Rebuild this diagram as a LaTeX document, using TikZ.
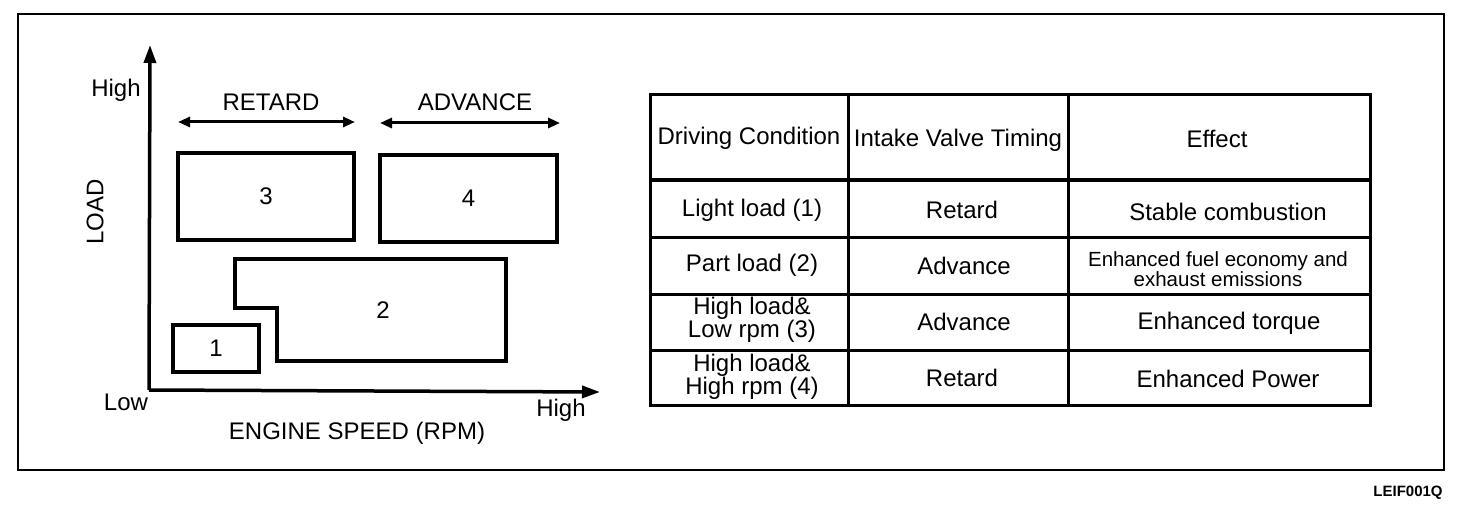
\documentclass[tikz,border=0pt]{standalone}
\usepackage{fontspec}
\setmainfont{Liberation Sans}
\usetikzlibrary{arrows.meta}
\begin{document}
\begin{tikzpicture}[x=1pt,y=-1pt,
  every node/.style={font=\fontsize{24}{20}\selectfont, inner sep=0pt},
  region/.style={draw, line width=3.5pt},
  axis/.style={line width=3.5pt, -{Triangle[length=18pt,width=12pt]}},
  dbl/.style={line width=3pt, {Triangle[length=12pt,width=10pt]}-{Triangle[length=12pt,width=10pt]}},
  tbl/.style={line width=3pt},
  cell/.style={align=center},
  small/.style={font=\fontsize{20.5}{19}\selectfont, align=center}]
\useasboundingbox (0,0) rectangle (1472,516);
\draw[line width=2.5pt] (18,14) rectangle (1444,470);
% axes
\coordinate (O) at (149,390);
\coordinate (ytip) at (150,45);
\coordinate (xtip) at (600,392);
\draw[axis] (O) -- (ytip);
\draw[axis] (O) -- (xtip);
\node (yhigh) at (116,90) {High};
\node[rotate=90] (load) at (95,212) {LOAD};
\node (low) at (126,402) {Low};
\node (xhigh) at (561,410) {High};
\node (xlabel) at (357,433) {ENGINE SPEED (RPM)};
\node (retard) at (271,102) {RETARD};
\node (advance) at (475,102) {ADVANCE};
\coordinate (rl) at (178,122);
\coordinate (rr) at (355,122);
\coordinate (al) at (380,123);
\coordinate (ar) at (560,123);
\draw[dbl] (rl) -- (rr);
\draw[dbl] (al) -- (ar);
% regions
\node[region, minimum width=176pt, minimum height=87pt] (b3) at (266,196.5) {3};
\node[region, minimum width=177pt, minimum height=87pt] (b4) at (468.5,198.5) {4};
\node[region, minimum width=86pt, minimum height=47pt] (b1) at (216,348.5) {1};
\draw[line width=3.5pt] (235,259) -- (506,259) -- (506,361) -- (277,361) -- (277,308) -- (235,308) -- cycle;
\node (b2) at (383,310) {2};
% table
\draw[tbl] (650,95) rectangle (1370,405);
\draw[tbl] (848,95) -- (848,405);
\draw[tbl] (1068,95) -- (1068,405);
\draw[line width=4.5pt] (650,180) -- (1370,180);
\draw[tbl] (650,237) -- (1370,237);
\draw[tbl] (650,294) -- (1370,294);
\draw[tbl] (650,350) -- (1370,350);
\node (h1) at (749,138) {Driving Condition};
\node (h2) at (958,140) {Intake Valve Timing};
\node (h3) at (1217,139) {Effect};
\node (r1c1) at (752,210) {Light load (1)};
\node (r1c2) at (962,210) {Retard};
\node (r1c3) at (1228,212) {Stable combustion};
\node (r2c1) at (752,265) {Part load (2)};
\node (r2c2) at (964,266) {Advance};
\node[small] (r2c3) at (1218,269) {Enhanced fuel economy and\\exhaust emissions};
\node[cell] (r3c1) at (752,320) {High load\&\\Low rpm (3)};
\node (r3c2) at (964,322) {Advance};
\node (r3c3) at (1229,323) {Enhanced torque};
\node[cell] (r4c1) at (752,377) {High load\&\\High rpm (4)};
\node (r4c2) at (962,378) {Retard};
\node (r4c3) at (1228,379) {Enhanced Power};
\node[font=\fontsize{15}{15}\selectfont\bfseries] (code) at (1408,493) {LEIF001Q};
\end{tikzpicture}
\end{document}
